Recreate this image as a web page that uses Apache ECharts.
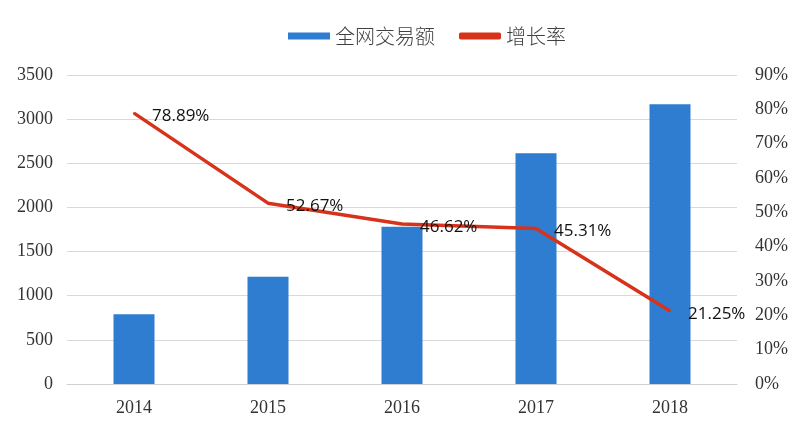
<!DOCTYPE html>
<html><head><meta charset="utf-8">
<script src="https://cdn.jsdelivr.net/npm/echarts@6/dist/echarts.min.js"></script>
<style>html,body{margin:0;padding:0;background:#fff}#c{width:800px;height:426px}</style>
</head><body><div id="c"></div>
<script>
var categories = ['2014','2015','2016','2017','2018'];
var volume = [790, 1215, 1780, 2615, 3170];
var growth = [78.89, 52.67, 46.62, 45.31, 21.25];
var leftTicks = [0, 500, 3500];
var rightTicks = [0, 10, 90];

var chart = echarts.init(document.getElementById('c'), null, {renderer:'canvas'});
var serif = 'Liberation Serif';
chart.setOption({
  animation: false,
  backgroundColor: '#fff',
  legend: {
    top: 21, left: 283, itemGap: 24, itemWidth: 42, itemHeight: 7,
    textStyle: {fontFamily: 'Noto Sans CJK SC', fontSize: 20, color: '#404040', fontWeight: 300},
    data: [
      {name: '全网交易额', icon: 'rect', itemStyle: {color: '#2e7dd0'}},
      {name: '增长率', icon: 'roundRect', itemStyle: {color: '#d7321a'}}
    ]
  },
  grid: {left: 67, right: 63, top: 75, bottom: 42},
  xAxis: {
    type: 'category', data: categories,
    axisLine: {lineStyle: {color: '#d0d0d0', width: 1}},
    axisTick: {show: false},
    axisLabel: {fontFamily: serif, fontSize: 18, color: '#333', margin: 15}
  },
  yAxis: [
    {type: 'value', min: leftTicks[0], max: leftTicks[2], interval: leftTicks[1],
     axisLine: {show: false}, axisTick: {show: false},
     splitLine: {lineStyle: {color: '#d9d9d9', width: 1}},
     axisLabel: {fontFamily: serif, fontSize: 18, color: '#333', margin: 14,
       formatter: function(v){ return String(v); }}},
    {type: 'value', min: rightTicks[0], max: rightTicks[2], interval: rightTicks[1],
     axisLine: {show: false}, axisTick: {show: false}, splitLine: {show: false},
     axisLabel: {fontFamily: serif, fontSize: 18, color: '#333', margin: 18, formatter: '{value}%'}}
  ],
  series: [
    {name: '全网交易额', type: 'bar', data: volume, barWidth: 41,
     itemStyle: {color: '#2e7dd0'}},
    {name: '增长率', type: 'line', yAxisIndex: 1, data: growth,
     symbol: 'circle', symbolSize: 2, showSymbol: true,
     lineStyle: {color: '#d7321a', width: 3.5},
     itemStyle: {color: '#d7321a'},
     label: {show: true, position: 'right', distance: 17, offset: [0, 3],
       fontFamily: 'Open Sans', fontSize: 17, color: '#111',
       formatter: function(p){ return p.value.toFixed(2) + '%'; }}}
  ]
});
</script></body></html>
